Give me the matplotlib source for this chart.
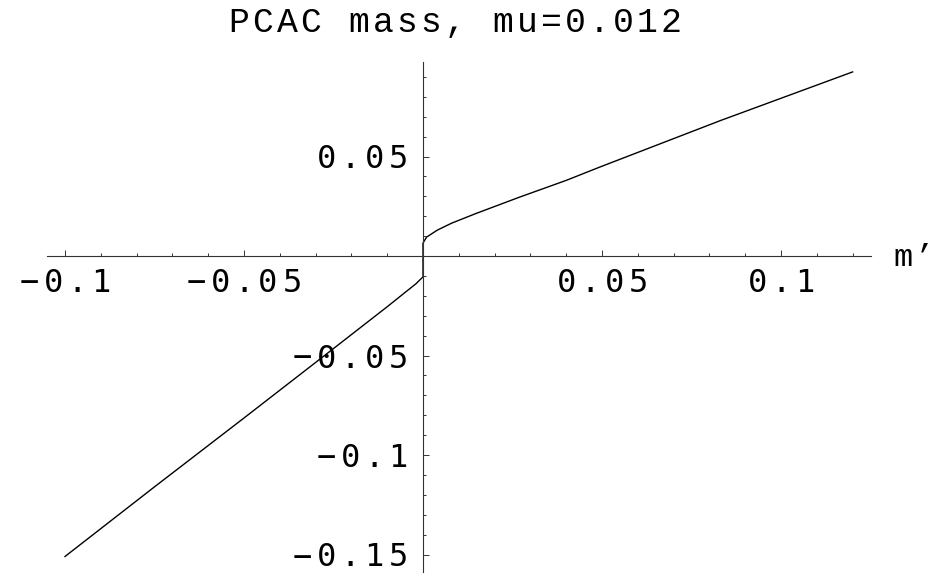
import numpy as np
import matplotlib
matplotlib.use("Agg")
import matplotlib.pyplot as plt
from matplotlib.ticker import FixedLocator, NullFormatter

## PCAC mass vs m' , two branches meeting at m'=0
m_left = [-0.1, -0.075, -0.05, -0.03, -0.02, -0.01, -0.005, -0.002, 0.0]
pcac_left = [-0.151, -0.116, -0.0814, -0.0535, -0.0395, -0.0255, -0.0183, -0.0140, -0.0105]
m_right = [0.0, 0.001, 0.004, 0.008, 0.015, 0.027, 0.04, 0.0494, 0.083, 0.12]
pcac_right = [0.0065, 0.0095, 0.013, 0.0165, 0.0215, 0.0296, 0.038, 0.0447, 0.068, 0.0925]

xmajor = [-0.1, -0.05, 0.05, 0.1]
xlabels = ["-0.1", "-0.05", "0.05", "0.1"]
ymajor = [0.05, -0.05, -0.1, -0.15]
ylabels = ["0.05", "-0.05", "-0.1", "-0.15"]

W, H = 943, 574
X0, Y0 = 423, 256        # origin in pixels
SX, SY = 3580, 1990      # pixels per unit

fig = plt.figure(figsize=(W / 100, H / 100), dpi=100)
ax = fig.add_axes([0, 0, 1, 1])
ax.patch.set_alpha(0)
ax.set_xlim((0 - X0) / SX, (W - X0) / SX)
ax.set_ylim((Y0 - H) / SY, (Y0 - 0) / SY)

def spaced(x, y, s, pitch, anchor="center", **kw):
    # monospaced text with extra letter spacing; x,y in data units, pitch in pixels
    n = len(s)
    if anchor == "center":
        c0 = x - (n - 1) / 2 * pitch / SX
    else:  # right: last cell ends at x
        c0 = x - (n - 0.5) * pitch / SX
    for i, ch in enumerate(s):
        ax.text(c0 + i * pitch / SX, y, ch, ha="center", va="baseline", **kw)

# both branches, joined by the vertical jump at zero
ax.plot(m_left + m_right, pcac_left + pcac_right, color="black", lw=1.0)

# axes through the origin
for s in ["top", "right"]:
    ax.spines[s].set_visible(False)
ax.spines["left"].set_position(("data", 0))
ax.spines["bottom"].set_position(("data", 0))
ax.spines["bottom"].set_bounds(-0.105, 0.125)
ax.spines["left"].set_bounds(-0.159, 0.0975)
for s in ["left", "bottom"]:
    ax.spines[s].set_linewidth(0.8)
    ax.spines[s].set_color("#333333")

ax.xaxis.set_major_locator(FixedLocator(xmajor))
ax.xaxis.set_minor_locator(FixedLocator(np.round(np.arange(-0.1, 0.1201, 0.01), 3)))
ax.yaxis.set_major_locator(FixedLocator(ymajor))
ax.yaxis.set_minor_locator(FixedLocator(np.round(np.arange(-0.15, 0.0901, 0.01), 3)))
ax.xaxis.set_major_formatter(NullFormatter())
ax.yaxis.set_major_formatter(NullFormatter())
ax.tick_params(which="both", direction="in", color="#333333", width=0.7)
ax.tick_params(which="major", length=4.5)
ax.tick_params(which="minor", length=2.5)

tick_font = dict(fontfamily="DejaVu Sans Mono", fontsize=23, color="black")
for xv, lab in zip(xmajor, xlabels):
    spaced(xv, -36 / SY, lab.replace("-", "\u2212"), 24, **tick_font)
for yv, lab in zip(ymajor, ylabels):
    spaced(-13 / SX, yv - 12 / SY, lab.replace("-", "\u2212"), 24, anchor="right", **tick_font)

# title and axis label
spaced(32 / SX, (Y0 - 32) / SY, "PCAC mass, mu=0.012", 24,
       fontfamily="Liberation Mono", fontsize=25, color="black")
spaced((914 - X0) / SX, (Y0 - 266) / SY, "m\u2019", 21,
       fontfamily="Liberation Mono", fontsize=23, color="black")

fig.savefig("out.png", dpi=100)
